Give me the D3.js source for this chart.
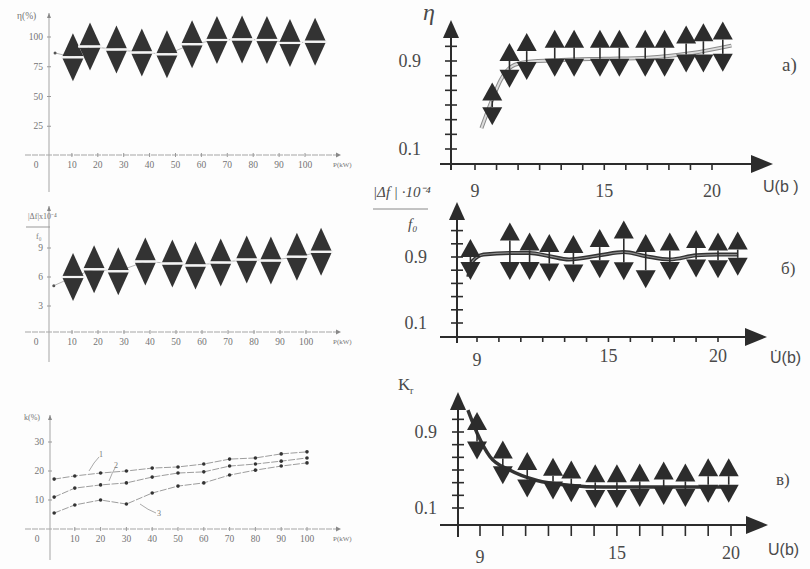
<!DOCTYPE html>
<html>
<head>
<meta charset="utf-8">
<script src="https://cdn.jsdelivr.net/npm/d3@7"></script>
<style>
body { margin: 0; background: #fff; }
svg { display: block; }
.lt { font-family: "Liberation Serif", serif; font-size: 9.5px; fill: #747474; }
.rt { font-family: "Liberation Serif", serif; font-size: 18px; fill: #4a4a4a; }
.rs { font-family: "Liberation Sans", sans-serif; font-size: 16px; fill: #4a4a4a; }
</style>
</head>
<body>
<div id="chart"></div>
<script>
// ---- left column, against P ----
var pTicks = [10, 20, 30, 40, 50, 60, 70, 80, 90, 100];

var etaP = [10.4, 17, 27.2, 37, 46.7, 56.4, 66, 75.7, 85.3, 94.2, 103.9];
var etaPct = [83, 92, 89.5, 87, 85.5, 94, 97.5, 98, 97.5, 95, 96];
var etaStart = [3.5, 86.6];
var etaTicks = [25, 50, 75, 100];

var dfP = [10.4, 18.5, 27.8, 38.2, 48.6, 57.5, 67.2, 77.2, 86.5, 96.5, 105.8];
var dfVals = [6.0, 6.8, 6.6, 7.6, 7.4, 7.2, 7.5, 7.8, 7.7, 8.1, 8.6];
var dfStart = [3, 5.1];
var dfTicks = [3, 6, 9];

var kP = [2, 10, 20, 30, 40, 50, 60, 70, 80, 90, 100];
var k1 = [17.2, 18.3, 19.3, 20.0, 21.0, 21.4, 22.4, 24.1, 24.5, 25.9, 26.6];
var k2 = [11.0, 14.1, 15.2, 15.9, 17.9, 19.3, 19.7, 21.7, 22.4, 23.4, 24.5];
var k3 = [5.5, 8.3, 10.0, 8.6, 12.4, 14.8, 15.9, 18.6, 20.3, 21.7, 22.8];
var kTicks = [10, 20, 30];

// ---- right column, against U ----
var uTicks = [9, 15, 20];

var etaU = [9.8, 10.6, 11.4, 12.7, 13.6, 14.8, 15.7, 16.9, 17.8, 18.8, 19.6, 20.5];
var etaR = [0.51, 0.86, 0.94, 0.97, 0.97, 0.97, 0.97, 0.97, 0.97, 1.01, 1.02, 1.03];
var etaErr = [0.03, 0.04, 0.05, 0.05, 0.05, 0.05, 0.05, 0.05, 0.05, 0.05, 0.06, 0.065];
var etaFitU = [9.3, 9.8, 10.2, 10.7, 11.4, 13, 15, 17, 19, 20.9];
var etaFit = [0.29, 0.55, 0.73, 0.85, 0.89, 0.91, 0.92, 0.93, 0.97, 1.04];

var dfU = [8.7, 10.5, 11.4, 12.3, 13.4, 14.6, 15.7, 16.7, 17.8, 19.0, 20.0, 20.9];
var dfR = [0.87, 0.97, 0.91, 0.89, 0.88, 0.94, 0.98, 0.85, 0.91, 0.94, 0.92, 0.94];
var dfErr = [0.03, 0.13, 0.07, 0.07, 0.07, 0.08, 0.145, 0.11, 0.07, 0.07, 0.06, 0.05];
var dfFitU = [8.6, 8.8, 9.3, 10.5, 11.4, 12.3, 13.2, 14.6, 15.7, 16.7, 17.8, 19.0, 20.0, 20.9];
var dfFit = [0.66, 0.85, 0.93, 0.95, 0.95, 0.91, 0.87, 0.92, 0.96, 0.91, 0.87, 0.92, 0.93, 0.93];

var krU = [8.87, 10.0, 11.07, 12.2, 13.0, 14.05, 15.0, 16.0, 17.05, 18.0, 19.0, 19.9];
var krR = [0.86, 0.58, 0.45, 0.41, 0.38, 0.33, 0.33, 0.34, 0.36, 0.34, 0.39, 0.39];
var krErr = [0.06, 0.04, 0.05, 0.03, 0.03, 0.04, 0.04, 0.04, 0.04, 0.04, 0.045, 0.045];
var krFitU = [8.47, 8.87, 9.44, 10.3, 11.5, 12.9, 14.4, 17.3, 20.0];
var krFit = [1.13, 0.89, 0.64, 0.5, 0.39, 0.34, 0.32, 0.32, 0.32];

var LGRAY = "#a5a5a5", DARK = "#2c2c2c";

var svg = d3.select("#chart").append("svg")
    .attr("width", 810)
    .attr("height", 569);

svg.append("rect").attr("width", 810).attr("height", 569).attr("fill", "#fdfdfd");

function tri(cx, yb, w, h, dir) {
    return "M" + (cx - w / 2) + "," + yb + "L" + (cx + w / 2) + "," + yb + "L" + cx + "," + (yb - dir * h) + "Z";
}

function pairs(a, b) {
    return a.map(function (d, i) { return [d, b[i]]; });
}

// faint left-hand panels
function leftPanel(c) {
    var g = svg.append("g");
    var x = c.x, y = c.y;

    g.append("line").attr("x1", c.ax).attr("x2", c.ax).attr("y1", c.yTop).attr("y2", c.yBot)
        .attr("stroke", LGRAY).attr("stroke-width", 1);
    g.append("line").attr("x1", 25).attr("x2", 336).attr("y1", c.ay).attr("y2", c.ay)
        .attr("stroke", LGRAY).attr("stroke-width", 1).attr("stroke-dasharray", "6,1");
    g.append("path").attr("d", "M336," + (c.ay - 2.5) + "L341," + c.ay + "L336," + (c.ay + 2.5) + "Z").attr("fill", "#888");
    g.append("path").attr("d", "M" + (c.ax - 2) + "," + (c.yTop + 5) + "L" + c.ax + "," + c.yTop + "L" + (c.ax + 2) + "," + (c.yTop + 5) + "Z").attr("fill", "#888");

    g.selectAll("line.xt").data(pTicks).join("line").attr("class", "xt")
        .attr("x1", function (d) { return x(d); }).attr("x2", function (d) { return x(d); })
        .attr("y1", c.ay - 2).attr("y2", c.ay + 2).attr("stroke", "#999");
    g.selectAll("text.xl").data(pTicks).join("text").attr("class", "lt xl")
        .attr("x", function (d) { return x(d); }).attr("y", c.ay + 13)
        .attr("text-anchor", "middle").text(function (d) { return d; });

    g.selectAll("line.yt").data(c.yTicks).join("line").attr("class", "yt")
        .attr("x1", c.ax - 2).attr("x2", c.ax + 2)
        .attr("y1", function (d) { return y(d); }).attr("y2", function (d) { return y(d); }).attr("stroke", "#999");
    g.selectAll("text.yl").data(c.yTicks).join("text").attr("class", "lt yl")
        .attr("x", c.ax - 6).attr("y", function (d) { return y(d) + 3; })
        .attr("text-anchor", "end").text(function (d) { return d; });

    g.append("text").attr("class", "lt").attr("x", c.ax - 13).attr("y", c.ay + 13).attr("text-anchor", "middle").text("0");
    g.append("text").attr("class", "lt").attr("x", 333).attr("y", c.ay + 12).style("font-size", "7px").text("P(kW)");
    return g;
}

function diamonds(g, x, y, p, v, start) {
    var pts = [start].concat(pairs(p, v));
    g.append("path").datum(pts)
        .attr("d", d3.line().x(function (d) { return x(d[0]); }).y(function (d) { return y(d[1]); }))
        .attr("fill", "none").attr("stroke", "#b5b5b5").attr("stroke-width", 1);
    g.append("circle").attr("cx", x(start[0])).attr("cy", y(start[1])).attr("r", 1.5).attr("fill", "#555");

    var m = g.selectAll("g.dm").data(pairs(p, v)).join("g").attr("class", "dm");
    m.append("path").attr("d", function (d) { return tri(x(d[0]), y(d[1]) - 1, 21, 23, 1); }).attr("fill", "#333");
    m.append("path").attr("d", function (d) { return tri(x(d[0]), y(d[1]) + 1, 21, 23, -1); }).attr("fill", "#333");
    m.append("line")
        .attr("x1", function (d) { return x(d[0]) - 12; }).attr("x2", function (d) { return x(d[0]) + 12; })
        .attr("y1", function (d) { return y(d[1]); }).attr("y2", function (d) { return y(d[1]); })
        .attr("stroke", "#f4f4f4").attr("stroke-width", 2.2);
}

// panel: η(%)
var x1 = d3.scaleLinear().domain([0, 100]).range([46, 305]);
var y1 = d3.scaleLinear().domain([0, 100]).range([156, 37]);
var g1 = leftPanel({ x: x1, y: y1, ax: 49, ay: 155, yTop: 13, yBot: 192, yTicks: etaTicks });
g1.append("text").attr("class", "lt").attr("x", 17).attr("y", 19).text("η(%)");
diamonds(g1, x1, y1, etaP, etaPct, etaStart);

// panel: |Δf|/f0
var x2 = d3.scaleLinear().domain([0, 100]).range([46, 306]);
var y2 = d3.scaleLinear().domain([0, 9]).range([335, 248]);
var g2 = leftPanel({ x: x2, y: y2, ax: 49, ay: 332, yTop: 206, yBot: 362, yTicks: dfTicks });
g2.append("text").attr("class", "lt").attr("x", 28).attr("y", 219).style("font-size", "8px").text("|Δf|x10⁻⁴");
g2.append("line").attr("x1", 26).attr("x2", 50).attr("y1", 227).attr("y2", 227).attr("stroke", "#999");
g2.append("text").attr("class", "lt").attr("x", 36).attr("y", 239).style("font-size", "8px").text("f₀");
diamonds(g2, x2, y2, dfP, dfVals, dfStart);

// panel: k(%)
var x3 = d3.scaleLinear().domain([0, 100]).range([49, 307]);
var y3 = d3.scaleLinear().domain([0, 30]).range([529, 442]);
var g3 = leftPanel({ x: x3, y: y3, ax: 50, ay: 529, yTop: 415, yBot: 560, yTicks: kTicks });
g3.append("text").attr("class", "lt").attr("x", 24).attr("y", 420).style("font-size", "8px").text("k(%)");
var kLine = d3.line().x(function (d) { return x3(d[0]); }).y(function (d) { return y3(d[1]); });
[k1, k2, k3].forEach(function (k) {
    var pts = pairs(kP, k);
    g3.append("path").datum(pts).attr("d", kLine).attr("fill", "none")
        .attr("stroke", "#9d9d9d").attr("stroke-width", 1).attr("stroke-dasharray", "7,1.5");
    g3.selectAll(null).data(pts).join("circle")
        .attr("cx", function (d) { return x3(d[0]); }).attr("cy", function (d) { return y3(d[1]); })
        .attr("r", 1.8).attr("fill", "#333");
});
// curve numbers with leader lines
g3.append("path").attr("d", "M89,471Q94,462 99,457").attr("fill", "none").attr("stroke", "#aaa");
g3.append("text").attr("class", "lt").attr("x", 99).attr("y", 457).style("font-size", "8px").text("1");
g3.append("path").attr("d", "M109,481Q112,473 115,468").attr("fill", "none").attr("stroke", "#aaa");
g3.append("text").attr("class", "lt").attr("x", 114).attr("y", 468).style("font-size", "8px").text("2");
g3.append("path").attr("d", "M140,504Q148,510 156,513").attr("fill", "none").attr("stroke", "#aaa");
g3.append("text").attr("class", "lt").attr("x", 157).attr("y", 516).style("font-size", "8px").text("3");

// bold right-hand panels
function rightPanel(c) {
    var g = svg.append("g");
    var x = c.x, y = c.y;
    g.append("line").attr("x1", c.ax).attr("x2", c.ax).attr("y1", c.arrowTop + 14).attr("y2", c.yBot)
        .attr("stroke", DARK).attr("stroke-width", 2);
    g.append("path").attr("d", "M" + (c.ax - 8) + "," + (c.arrowTop + 18) + "L" + c.ax + "," + c.arrowTop + "L" + (c.ax + 8) + "," + (c.arrowTop + 18) + "Z").attr("fill", DARK);
    g.append("line").attr("x1", 440).attr("x2", c.tip - 16).attr("y1", c.ay).attr("y2", c.ay)
        .attr("stroke", DARK).attr("stroke-width", 2);
    g.append("path").attr("d", "M" + (c.tip - 22) + "," + (c.ay - 9) + "L" + c.tip + "," + c.ay + "L" + (c.tip - 22) + "," + (c.ay + 9) + "Z").attr("fill", DARK);

    g.selectAll("line.xt").data(d3.range(9, 21)).join("line").attr("class", "xt")
        .attr("x1", function (d) { return x(d); }).attr("x2", function (d) { return x(d); })
        .attr("y1", c.ay).attr("y2", c.ay + c.tickLen).attr("stroke", DARK).attr("stroke-width", 1.6);
    g.selectAll("line.yt").data(c.yTicks).join("line").attr("class", "yt")
        .attr("x1", c.ax - 6).attr("x2", c.ax + 6)
        .attr("y1", function (d) { return y(d); }).attr("y2", function (d) { return y(d); })
        .attr("stroke", DARK).attr("stroke-width", 1.6);

    g.selectAll("text.xl").data(uTicks).join("text").attr("class", "rt xl")
        .attr("x", function (d) { return x(d); })
        .attr("y", function (d) { return d === 9 ? c.nineY : c.labY; })
        .attr("text-anchor", "middle").text(function (d) { return d; });
    g.selectAll("text.yl").data([0.9, 0.1]).join("text").attr("class", "rt yl")
        .attr("x", c.labX).attr("y", function (d) { return y(d) + 6; })
        .attr("text-anchor", "end").text(function (d) { return d; });
    return g;
}

function errMarks(g, x, y, u, v, e) {
    var data = u.map(function (d, i) { return { u: d, v: v[i], e: e[i] }; });
    var m = g.selectAll("g.em").data(data).join("g").attr("class", "em");
    m.append("line")
        .attr("x1", function (d) { return x(d.u); }).attr("x2", function (d) { return x(d.u); })
        .attr("y1", function (d) { return y(d.v + d.e); }).attr("y2", function (d) { return y(d.v - d.e); })
        .attr("stroke", DARK).attr("stroke-width", 1.6);
    m.append("path").attr("d", function (d) { return tri(x(d.u), y(d.v + d.e), 20, 18, 1); }).attr("fill", DARK);
    m.append("path").attr("d", function (d) { return tri(x(d.u), y(d.v - d.e), 20, 18, -1); }).attr("fill", DARK);
}

var yTickVals = d3.range(0, 8).map(function (i) { return 0.1 + i * 0.8 / 6; });

// a) η vs U
var xa = d3.scaleLinear().domain([9, 20]).range([475, 712]);
var ya = d3.scaleLinear().domain([0.1, 0.9]).range([149, 61]);
var ga = rightPanel({ x: xa, y: ya, ax: 451, ay: 164, arrowTop: 20, yBot: 170, tip: 773, tickLen: 6,
    yTicks: yTickVals, labX: 421, labY: 197, nineY: 197 });
var fitA = d3.line().curve(d3.curveMonotoneX).x(function (d) { return xa(d[0]); }).y(function (d) { return ya(d[1]); });
ga.append("path").datum(pairs(etaFitU, etaFit)).attr("d", fitA).attr("fill", "none").attr("stroke", "#8a8a8a").attr("stroke-width", 4);
ga.append("path").datum(pairs(etaFitU, etaFit)).attr("d", fitA).attr("fill", "none").attr("stroke", "#dcdcdc").attr("stroke-width", 2);
errMarks(ga, xa, ya, etaU, etaR, etaErr);
ga.append("text").attr("class", "rt").attr("x", 423).attr("y", 20).style("font-style", "italic").style("font-size", "24px").text("η");
ga.append("text").attr("class", "rt").attr("x", 782).attr("y", 71).style("font-size", "19px").text("a)");
ga.append("text").attr("class", "rs").attr("x", 763).attr("y", 192).text("U(b )");

// б) |Δf|/f0 vs U
var xb = d3.scaleLinear().domain([9, 20]).range([477, 718]);
var yb = d3.scaleLinear().domain([0.1, 0.9]).range([323, 257]);
var gb = rightPanel({ x: xb, y: yb, ax: 457, ay: 337, arrowTop: 202, yBot: 343, tip: 767, tickLen: 5,
    yTicks: d3.range(0, 8).map(function (i) { return 0.1 + i * 0.16; }), labX: 427, labY: 362, nineY: 366 });
var fitB = d3.line().curve(d3.curveMonotoneX).x(function (d) { return xb(d[0]); }).y(function (d) { return yb(d[1]); });
gb.append("path").datum(pairs(dfFitU, dfFit)).attr("d", fitB).attr("fill", "none").attr("stroke", "#333").attr("stroke-width", 4);
gb.append("path").datum(pairs(dfFitU, dfFit)).attr("d", fitB).attr("fill", "none").attr("stroke", "#8c8c8c").attr("stroke-width", 1.2);
errMarks(gb, xb, yb, dfU, dfR, dfErr);
gb.append("text").attr("class", "rt").attr("x", 373).attr("y", 197).style("font-size", "15px").style("font-style", "italic").text("|Δf | ·10⁻⁴");
gb.append("line").attr("x1", 373).attr("x2", 428).attr("y1", 209).attr("y2", 209).attr("stroke", "#888").attr("stroke-width", 1);
gb.append("text").attr("class", "rt").attr("x", 408).attr("y", 229).style("font-size", "15px").style("font-style", "italic").text("f₀");
gb.append("text").attr("class", "rt").attr("x", 781).attr("y", 274).style("font-size", "17px").text("б)");
gb.append("text").attr("class", "rs").attr("x", 770).attr("y", 363).text("U\u0307(b)");

// в) Kr vs U
var xc = d3.scaleLinear().domain([9, 20]).range([480, 731]);
var yc = d3.scaleLinear().domain([0.1, 0.9]).range([508, 432]);
var gc = rightPanel({ x: xc, y: yc, ax: 458, ay: 525, arrowTop: 392, yBot: 537, tip: 768, tickLen: 11,
    yTicks: yTickVals, labX: 437, labY: 559, nineY: 563 });
var fitC = d3.line().curve(d3.curveMonotoneX).x(function (d) { return xc(d[0]); }).y(function (d) { return yc(d[1]); });
gc.append("path").datum(pairs(krFitU, krFit)).attr("d", fitC).attr("fill", "none").attr("stroke", "#333").attr("stroke-width", 3.5);
errMarks(gc, xc, yc, krU, krR, krErr);
gc.append("text").attr("class", "rt").attr("x", 398).attr("y", 390).style("font-size", "17px").text("K");
gc.append("text").attr("class", "rt").attr("x", 410).attr("y", 394).style("font-size", "10px").text("r");
gc.append("text").attr("class", "rt").attr("x", 776).attr("y", 485).style("font-size", "17px").text("в)");
gc.append("text").attr("class", "rs").attr("x", 768).attr("y", 555).text("U(b)");
</script>
</body>
</html>
